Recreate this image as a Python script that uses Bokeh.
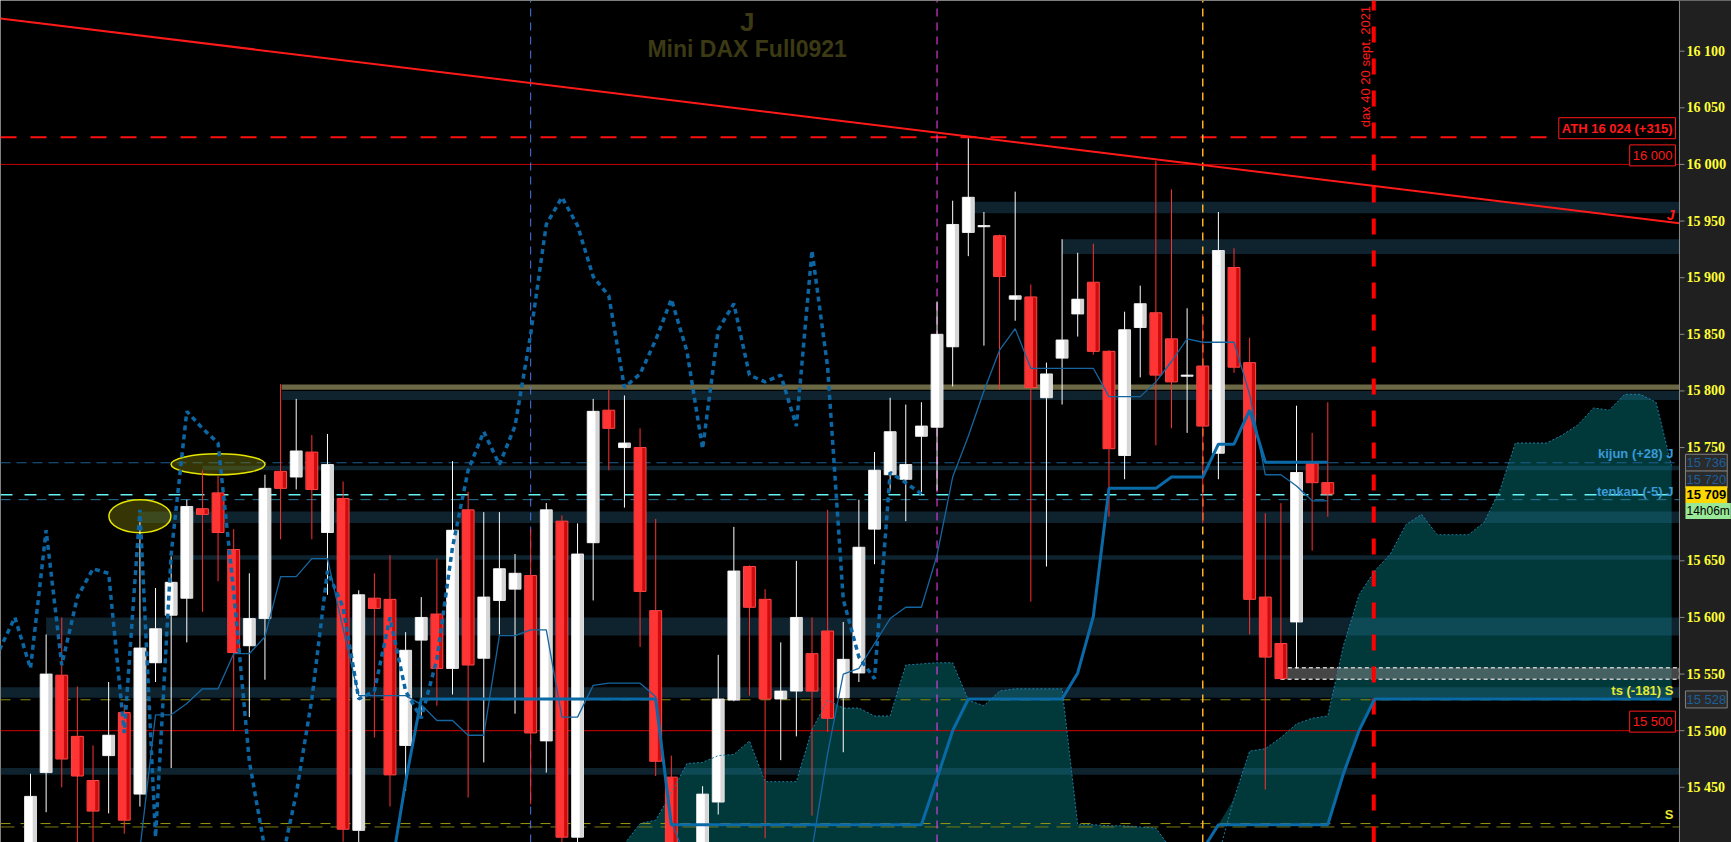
from math import pi
from bokeh.plotting import figure
from bokeh.models import Range1d, Label, ColumnDataSource
from bokeh.embed import file_html
from bokeh.resources import INLINE

# ---------------- data ----------------
opens = [15390, 15463, 15549, 15495, 15456, 15478, 15516, 15444, 15560, 15602,
         15617, 15696, 15710, 15660, 15575, 15599, 15729, 15724, 15746, 15675,
         15705, 15412, 15617, 15616, 15487, 15580, 15603, 15555, 15695, 15564,
         15615, 15625, 15637, 15491, 15685, 15406, 15666, 15783, 15750, 15750,
         15606, 15459, 15392, 15390, 15437, 15527, 15645, 15616, 15528, 15535,
         15568, 15588, 15529, 15551, 15678, 15726, 15722, 15760, 15768, 15839,
         15940, 15945, 15937, 15881, 15883, 15794, 15829, 15868, 15896, 15835,
         15743, 15856, 15869, 15846, 15813, 15822, 15745, 15909, 15825, 15618,
         15577, 15596, 15736, 15719]
highs = [15462, 15585, 15600, 15539, 15487, 15543, 15523, 15684, 15626, 15654,
         15704, 15730, 15725, 15678, 15639, 15726, 15806, 15793, 15761, 15762,
         15720, 15624, 15639, 15655, 15587, 15618, 15652, 15738, 15711, 15693,
         15693, 15656, 15678, 15701, 15690, 15683, 15793, 15801, 15796, 15767,
         15687, 15478, 15398, 15451, 15567, 15680, 15646, 15625, 15578, 15650,
         15600, 15695, 15596, 15704, 15746, 15794, 15788, 15790, 15879, 15968,
         16023, 15958, 15938, 15976, 15894, 15825, 15934, 15922, 15930, 15836,
         15870, 15893, 16003, 15978, 15873, 15868, 15958, 15926, 15847, 15692,
         15701, 15787, 15763, 15790]
lows = [15380, 15428, 15450, 15395, 15390, 15427, 15409, 15433, 15543, 15467,
        15578, 15605, 15632, 15500, 15512, 15545, 15669, 15713, 15669, 15620,
        15402, 15395, 15494, 15433, 15447, 15513, 15522, 15532, 15441, 15472,
        15585, 15515, 15435, 15463, 15395, 15395, 15615, 15730, 15697, 15574,
        15460, 15390, 15372, 15385, 15426, 15526, 15531, 15405, 15474, 15495,
        15425, 15499, 15481, 15543, 15647, 15712, 15685, 15708, 15712, 15804,
        15919, 15840, 15801, 15862, 15614, 15645, 15788, 15848, 15832, 15689,
        15722, 15812, 15752, 15767, 15763, 15683, 15722, 15816, 15585, 15448,
        15545, 15555, 15659, 15689]
closes = [15442, 15550, 15475, 15460, 15429, 15496, 15421, 15573, 15590, 15631,
          15698, 15691, 15675, 15569, 15599, 15714, 15714, 15747, 15713, 15735,
          15413, 15620, 15608, 15461, 15571, 15600, 15555, 15677, 15558, 15618,
          15643, 15639, 15498, 15695, 15406, 15656, 15782, 15767, 15754, 15623,
          15473, 15395, 15380, 15444, 15528, 15641, 15609, 15528, 15535, 15600,
          15535, 15511, 15563, 15662, 15730, 15764, 15735, 15769, 15850, 15947,
          15971, 15946, 15901, 15884, 15803, 15815, 15845, 15881, 15835, 15749,
          15854, 15877, 15814, 15808, 15814, 15769, 15924, 15821, 15616, 15565,
          15546, 15728, 15719, 15709]

tenkan = [15380, 15380, 15380, 15380, 15380, 15380, 15380, 15395, 15514, 15514,
          15524, 15537, 15537, 15568, 15568, 15583, 15636, 15636, 15652, 15652,
          15590, 15531, 15531, 15531, 15531, 15523, 15509, 15509, 15496, 15496,
          15584, 15584, 15589, 15589, 15512, 15512, 15540, 15542, 15542, 15542,
          15530, 15420, 15385, 15385, 15385, 15385, 15385, 15385, 15385, 15385,
          15395, 15480, 15550, 15555, 15577, 15599, 15609, 15609, 15655, 15724,
          15760, 15800, 15836, 15855, 15820, 15820, 15820, 15820, 15820, 15795,
          15795, 15795, 15808, 15826, 15846, 15843, 15843, 15843, 15797, 15726,
          15726, 15716, 15703, 15703]
kijun = [15370] * 24 + [15455] + [15528] * 16 + [15417] * 17 + [15458, 15500] + \
        [15528] * 7 + [15551, 15601] + [15714] * 4 + [15724] * 3 + [15753] * 2 + \
        [15783] + [15737] * 5

span_a = [15370] * 38 + [
    15400, 15418, 15421, 15445, 15471, 15472, 15478, 15479, 15491, 15455,
    15455, 15455, 15501, 15527, 15520, 15520, 15513, 15513, 15558, 15559,
    15560, 15560, 15527, 15522, 15535, 15537, 15537, 15537, 15537, 15417,
    15417, 15416, 15416, 15415, 15414, 15395, 15380, 15375, 15390, 15440,
    15482, 15484, 15494, 15506, 15511, 15513, 15575, 15620, 15641, 15656,
    15682, 15691, 15673, 15673, 15673, 15684, 15712, 15754, 15754, 15754,
    15761, 15770, 15785, 15783, 15797, 15797, 15790, 15734]
span_b = [15370] * 75 + [15395] + [15417] * 8 + [15462, 15500] + [15528] * 20

chikou_shift = 26

# support / resistance zones: left start (bar index), top, bottom
zone_left = [60.2, 66.0, 16.06, 16.06, 11.0, 6.9, 9.1, 1.0, -1.92, -1.92]
zone_top = [15967, 15934, 15805.6, 15800, 15734, 15693.5, 15655, 15600, 15538.4, 15467]
zone_bottom = [15957, 15921, 15801, 15792, 15730, 15683.3, 15651, 15584, 15529, 15461]
zone_gold = [False, False, True, False, False, False, False, False, False, False]

grey_zone = (80, 15555.6, 15545.4)

levels = [16024, 16000, 15500, 15736.6, 15708.3, 15704, 15527.3, 15418, 15415]
markers = [32, 58, 75]
event_line = 85.94
trend_x = [-1.92, 105.5]
trend_y = [16128.9, 15948.1]
circles_x = [7.0, 12.0]
circles_y = [15689.4, 15735.2]

ticks = [15450, 15550, 15600, 15650, 15750, 15800, 15850, 15900, 15950, 16050, 16100]
big_ticks = [15500, 16000]

tag_values = [15736.6, 15721.8, 15708.3, 15694.0, 15527.6]
tag_texts = ["15 736", "15 720", "15 709", "14h06m", "15 528"]

# ---------------- geometry ----------------
W, H = 1731, 842
S = 15.63                       # px per bar
X0 = -30 / S
XE = X0 + W / S                 # right edge of canvas (bar units)
X1 = 105.5                      # price-scale panel starts here
K = 1.1325                      # px per point
Y1 = 16100 + 50.7 / K
Y0 = Y1 - H / K

p = figure(width=W, height=H, output_backend="svg", toolbar_location=None,
           x_range=Range1d(X0, XE), y_range=Range1d(Y0, Y1),
           x_axis_location=None, y_axis_location=None,
           background_fill_color="#000000", border_fill_color="#000000",
           min_border_left=0, min_border_top=0, min_border_bottom=0, min_border_right=0)
p.outline_line_color = None
p.grid.visible = False

# ---------------- cloud ----------------
xs_fut = list(range(len(span_a)))
cloud_top = [max(a, b) for a, b in zip(span_a, span_b)]
p.varea(x=xs_fut, y1=span_b, y2=cloud_top, fill_color="#01393b")

# ---------------- zones ----------------
zsrc = ColumnDataSource(dict(
    left=zone_left, right=[X1] * len(zone_left), top=zone_top, bottom=zone_bottom,
    color=["#6b6945" if g else "#2a6e8e" for g in zone_gold],
    alpha=[1.0 if g else 0.32 for g in zone_gold]))
p.quad(left="left", right="right", top="top", bottom="bottom", fill_color="color",
       fill_alpha="alpha", line_color=None, source=zsrc)
p.quad(left=[grey_zone[0]], right=[X1], top=[grey_zone[1]], bottom=[grey_zone[2]],
       fill_color="#8a8a8a", fill_alpha=0.5, line_color="#c8c8c8", line_dash="4 3",
       line_width=1.5)

# ---------------- horizontal levels ----------------
lvl_color = ["#ff1010", "#c00000", "#d00000", "#1b5f8f", "#66f2f2", "#2a7a9a",
             "#8a8a12", "#9a9a14", "#7a7a10"]
lvl_dash = ["16 14", "solid", "solid", "10 6", "12 12", "10 8", "10 10", "10 10", "14 8"]
lvl_width = [2, 1, 1, 1, 1.5, 1, 1, 1, 1]
for lv, c, d, w in zip(levels, lvl_color, lvl_dash, lvl_width):
    p.segment(x0=[X0], y0=[lv], x1=[X1], y1=[lv], line_color=c, line_dash=d, line_width=w)

# ---------------- vertical markers ----------------
for m, c, w in zip(markers, ["#4a78e8", "#ff40ff", "#ffb020"], [1, 1, 1.5]):
    p.segment(x0=[m], y0=[Y0], x1=[m], y1=[Y1], line_color=c, line_dash="8 6", line_width=w)

# ---------------- ellipses ----------------
p.ellipse(x=circles_x, y=circles_y, width=[62, 94], height=[33, 21],
          width_units="screen", height_units="screen",
          fill_color="#75750a", fill_alpha=0.45, line_color="#e6e600", line_width=1.5)

# ---------------- candles ----------------
n = len(closes)
idx = list(range(n))
bull = [c >= o for o, c in zip(opens, closes)]
csrc = ColumnDataSource(dict(
    x=idx, xl=[i - 0.11 for i in idx],
    top=[max(o, c) for o, c in zip(opens, closes)],
    bot=[min(o, c) for o, c in zip(opens, closes)],
    hi=highs, lo=lows,
    wick=["#ffffff" if b else "#ff3030" for b in bull],
    base=["#d6d6d6" if b else "#cc0c0c" for b in bull],
    light=["#ffffff" if b else "#ff3434" for b in bull],
    edge=["#e0e0e0" if b else "#ff4a4a" for b in bull]))
p.segment(x0="x", y0="hi", x1="x", y1="lo", line_color="wick", line_width=1, source=csrc)
p.vbar(x="x", width=0.76, top="top", bottom="bot", fill_color="base",
       line_color="edge", line_width=1, source=csrc)
p.vbar(x="xl", width=0.5, top="top", bottom="bot", fill_color="light",
       line_color=None, source=csrc)

# red event line
p.segment(x0=[event_line], y0=[Y0], x1=[event_line], y1=[Y1], line_color="#ff0000",
          line_width=4, line_dash="16 16")

# trend line
p.line(trend_x, trend_y, line_color="#ff1a1a", line_width=2)

# ---------------- ichimoku lines ----------------
p.line(xs_fut, span_a, line_color="#1e7fa8", line_width=1, line_dash="2 2")
p.line(xs_fut, span_b, line_color="#0a6aa8", line_width=3)
p.line(idx, tenkan, line_color="#1566a0", line_width=1.3)
p.line(idx, kijun, line_color="#0a6aa8", line_width=3)
chx = [i - chikou_shift for i in idx if i - chikou_shift >= -3]
chy = [closes[i] for i in idx if i - chikou_shift >= -3]
p.line(chx, chy, line_color="#0b66a3", line_width=3.5, line_dash="5 4")

# ---------------- price scale panel ----------------
F = "Liberation Sans"
p.quad(left=[X1], right=[XE + 1], bottom=[Y0], top=[Y1], fill_color="#202020", line_color=None)
p.segment(x0=[X1], y0=[Y0], x1=[X1], y1=[Y1], line_color="#8a8a8a", line_width=1)
all_ticks = sorted(ticks + big_ticks)
p.segment(x0=[X1] * len(all_ticks), y0=all_ticks, x1=[X1 + 5 / S] * len(all_ticks),
          y1=all_ticks, line_color="#8a8a8a", line_width=1)
fmt = lambda t: f"{t // 1000} {t % 1000:03d}"
p.text(x=[X1 + 7 / S] * len(ticks), y=ticks, text=[fmt(t) for t in ticks],
       text_color="#ffff33", text_font="Liberation Sans", text_font_style="bold",
       text_font_size="14px", text_baseline="middle", text_align="left")
p.text(x=[X1 + 7 / S] * len(big_ticks), y=big_ticks, text=[fmt(t) for t in big_ticks],
       text_color="#ffff33", text_font="Liberation Sans", text_font_style="bold",
       text_font_size="14.5px", text_baseline="middle", text_align="left")


def lab(x, y, text, color, size, style="normal", align="left", bg=None, border=None,
        xoff=0, angle=0, pad=0):
    kw = dict(x=x, y=y, text=text, text_color=color, text_font=F,
              text_font_size=size, text_font_style=style, text_align=align,
              text_baseline="middle", x_offset=xoff, angle=angle)
    if bg is not None:
        kw["background_fill_color"] = bg
    if border is not None:
        kw["border_line_color"] = border
    if pad:
        kw["padding"] = pad
    p.add_layout(Label(**kw))


lab(45.85, 16126, "J", "#3b3a14", "26px", "bold", "center")
lab(45.85, 16102, "Mini DAX Full0921", "#3b3a14", "23px", "bold", "center")
lab(85.4, 16140, "dax 40 20 sept. 2021", "#ff1a1a", "13px", "normal", "right", angle=pi / 2)

lab(X1, 16032, "ATH 16 024 (+315)", "#ff1a1a", "13px", "bold", "right",
    bg="#000000", border="#ff1a1a", xoff=-4, pad=3)
lab(X1, 16008, "16 000", "#ff1a1a", "13px", "normal", "right",
    bg="#000000", border="#ff1a1a", xoff=-4, pad=3)
lab(X1, 15508, "15 500", "#ff1a1a", "13px", "normal", "right",
    bg="#000000", border="#ff1a1a", xoff=-4, pad=3)
lab(X1, 15955, "J", "#ff1a1a", "14px", "bold italic", "right", xoff=-5)
lab(X1, 15744.5, "kijun (+28) J", "#3a9ad8", "13px", "bold", "right", xoff=-6)
lab(X1, 15711, "tenkan (-5) J", "#3a9ad8", "13px", "bold", "right", xoff=-6)
lab(X1, 15535.5, "ts (-181) S", "#e8e830", "13px", "bold", "right", xoff=-6)
lab(X1, 15426, "S", "#e8e830", "13px", "bold", "right", xoff=-6)

# price tags on the scale
tag_style = [("#1a5f9a", "#2b2b2b", "#808080", "normal", "13px"),
             ("#1a5f9a", "#2b2b2b", "#808080", "normal", "13px"),
             ("#000000", "#ffd700", None, "bold", "13px"),
             ("#000000", "#98e898", None, "normal", "12px"),
             ("#1a5f9a", "#2b2b2b", "#808080", "normal", "13px")]
for v, t, (tc, bg, bd, st, sz) in zip(tag_values, tag_texts, tag_style):
    lab(X1, v, t, tc, sz, st, "left", bg=bg, border=bd, xoff=6, pad=1)

open("out.html", "w").write(file_html(p, INLINE))
